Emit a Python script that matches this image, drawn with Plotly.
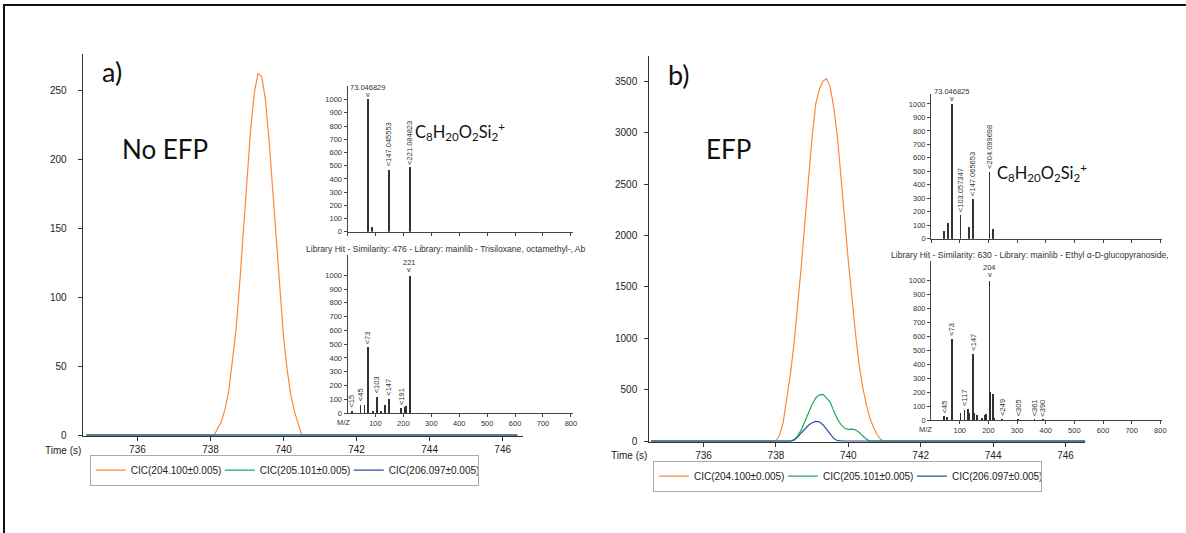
import plotly.graph_objects as go

W, H = 1186, 533

# ---------------- data ----------------
series_names = ["CIC(204.100±0.005)", "CIC(205.101±0.005)", "CIC(206.097±0.005)"]
series_colors = ["#F98A3C", "#22A85A", "#2E4DA6"]

# panel a (No EFP) chromatogram
time_a = [734.6, 738.1, 738.2, 738.3, 738.4, 738.5, 738.6, 738.7, 738.8, 738.9, 739.0,
          739.1, 739.2, 739.3, 739.4, 739.5, 739.6, 739.7, 739.8, 739.9, 740.0,
          740.1, 740.2, 740.3, 740.4, 740.5, 746.4]
cic204_a = [0, 0, 5, 10, 19, 32, 54, 77, 110, 148, 187,
            222, 248, 262, 260, 244, 215, 179, 141, 103, 71,
            47, 29, 17, 9, 0, 0]
time_flat_a = [734.6, 746.4]
cic205_a = [0, 0]
cic206_a = [0, 0]

# panel b (EFP) chromatogram
time_b = [734.55, 738.0, 738.1, 738.2, 738.3, 738.4, 738.5, 738.6, 738.7, 738.8, 738.9,
          739.0, 739.1, 739.2, 739.3, 739.4, 739.5, 739.6, 739.7, 739.8, 739.9,
          740.0, 740.1, 740.2, 740.3, 740.4, 740.5, 740.6, 740.7, 740.8, 740.9,
          741.0, 746.55]
cic204_b = [0, 0, 60, 180, 420, 650, 950, 1300, 1700, 2130, 2560,
            2960, 3280, 3420, 3500, 3525, 3440, 3240, 2950, 2580, 2160,
            1750, 1380, 1040, 740, 520, 350, 220, 130, 60, 15,
            0, 0]
cic205_b = [0, 0, 0, 0, 0, 0, 15, 50, 110, 190, 280,
            360, 420, 450, 455, 420, 380, 290, 215, 160, 125,
            115, 118, 110, 85, 50, 20, 0, 0, 0, 0,
            0, 0]
cic206_b = [0, 0, 0, 0, 0, 0, 10, 40, 80, 120, 155,
            180, 192, 188, 160, 115, 65, 25, 5, 0, 0,
            0, 0, 0, 0, 0, 0, 0, 0, 0, 0,
            0, 0]

# mass spectra (m/z, relative intensity)
a_meas_mz = [73, 86, 147, 221]
a_meas_int = [1000, 37, 470, 486]
a_lib_mz = [15, 45, 59, 73, 89, 103, 117, 131, 133, 147, 191, 205, 207, 221, 222, 223]
a_lib_int = [20, 62, 60, 480, 15, 120, 20, 15, 62, 105, 40, 50, 55, 1000, 250, 120]
b_meas_mz = [45, 59, 61, 73, 75, 103, 133, 147, 204, 217]
b_meas_int = [58, 113, 32, 1000, 47, 172, 88, 297, 493, 75]
b_lib_mz = [45, 55, 73, 75, 103, 117, 129, 133, 147, 149, 160, 177, 189, 191,
            204, 205, 217, 219, 249, 305, 361, 390]
b_lib_int = [30, 25, 585, 60, 57, 76, 85, 55, 473, 55, 40, 15, 40, 50,
             1000, 201, 189, 20, 8, 5, 5, 5]

# peak labels: (text, m/z, intensity, horizontal?)
a_meas_labels = [("73.046829", 73, 1000, True), ("<147.045553", 147, 470, False),
                 ("<221.084823", 221, 486, False)]
a_lib_labels = [("221", 221, 1000, True), ("<15", 15, 20, False), ("<45", 45, 62, False),
                ("<73", 73, 480, False), ("<103", 103, 120, False), ("<147", 147, 105, False),
                ("<191", 191, 40, False)]
b_meas_labels = [("73.046825", 73, 1000, True), ("<103.057347", 103, 172, False),
                 ("<147.065653", 147, 297, False), ("<204.099698", 204, 493, False)]
b_lib_labels = [("204", 204, 1000, True), ("<45", 45, 30, False), ("<73", 73, 585, False),
                ("<117", 117, 76, False), ("<147", 147, 473, False), ("<249", 249, 8, False),
                ("<305", 305, 5, False), ("<361", 361, 5, False), ("<390", 390, 5, False)]

time_ticks = [736, 738, 740, 742, 744, 746]
ticks_a = [0, 50, 100, 150, 200, 250]
ticks_b = [0, 500, 1000, 1500, 2000, 2500, 3000, 3500]
mz_ticks = [0, 100, 200, 300, 400, 500, 600, 700, 800]
mz_label_ticks = [100, 200, 300, 400, 500, 600, 700, 800]
int_ticks = [0, 100, 200, 300, 400, 500, 600, 700, 800, 900, 1000]

lib_text_a = "Library Hit - Similarity: 476 - Library: mainlib - Trisiloxane, octamethyl-, Ab"
lib_text_b = "Library Hit - Similarity: 630 - Library: mainlib - Ethyl α-D-glucopyranoside,"
formula = "C<sub>8</sub>H<sub>20</sub>O<sub>2</sub>Si<sub>2</sub><sup>+</sup>"

# ---------------- helpers ----------------
def px(x):
    return x / W

def py(y):
    return 1 - y / H

FONT = "Liberation Sans, Arial, sans-serif"
BIG = "Lato, Carlito, Calibri, sans-serif"

fig = go.Figure()

# chromatogram traces
for name, col, ys in zip(series_names, series_colors, [cic204_a, cic205_a, cic206_a]):
    xs = time_a if ys is cic204_a else time_flat_a
    fig.add_trace(go.Scatter(x=xs, y=ys, mode="lines", name=name,
                             line=dict(color=col, width=1.2), xaxis="x", yaxis="y",
                             legend="legend"))
for name, col, ys in zip(series_names, series_colors, [cic204_b, cic205_b, cic206_b]):
    fig.add_trace(go.Scatter(x=time_b, y=ys, mode="lines", name=name,
                             line=dict(color=col, width=1.2), xaxis="x4", yaxis="y4",
                             legend="legend2"))

# spectra
for mz, it, ax in [(a_meas_mz, a_meas_int, "2"), (a_lib_mz, a_lib_int, "3"),
                   (b_meas_mz, b_meas_int, "5"), (b_lib_mz, b_lib_int, "6")]:
    fig.add_trace(go.Bar(x=mz, y=it, width=3.0, xaxis="x" + ax, yaxis="y" + ax,
                         marker=dict(color="#333333", line=dict(width=0)),
                         showlegend=False))

def main_axes(xdom, ydom, yrange, yticks, ystand):
    xa = dict(domain=xdom, range=[734.5, 746.55], tickvals=time_ticks,
              showgrid=False, zeroline=False, showline=True, linecolor="#333",
              linewidth=1, ticks="outside", ticklen=4, tickcolor="#333",
              tickfont=dict(family=FONT, size=10, color="#222"))
    ya = dict(domain=ydom, range=yrange, tickvals=yticks, showgrid=False,
              zeroline=False, showline=True, linecolor="#333", linewidth=1,
              ticks="outside", ticklen=4, tickcolor="#333", ticklabelstandoff=ystand,
              tickfont=dict(family=FONT, size=10, color="#222"))
    return xa, ya

def inset_axes(xdom, ydom, yrange, show_x_labels):
    xa = dict(domain=xdom, range=[0, 806],
              tickvals=mz_label_ticks if show_x_labels else mz_ticks,
              showticklabels=show_x_labels, showgrid=False, zeroline=False,
              showline=True, linecolor="#444", linewidth=1, ticks="outside",
              ticklen=3, tickcolor="#444",
              tickfont=dict(family=FONT, size=7.5, color="#333"))
    ya = dict(domain=ydom, range=yrange, tickvals=int_ticks, showgrid=False,
              zeroline=False, showline=True, linecolor="#444", linewidth=1,
              ticks="outside", ticklen=3, tickcolor="#444",
              tickfont=dict(family=FONT, size=7.5, color="#333"))
    return xa, ya

x1, y1 = main_axes([px(83), px(525)], [py(440), py(55)], [-0.5, 275.8], ticks_a, 9)
x4, y4 = main_axes([px(652), px(1090)], [py(446), py(57)], [-6, 3740], ticks_b, 5)
x2, y2 = inset_axes([px(349), px(575)], [py(234), py(87)], [0, 1102], False)
x3, y3 = inset_axes([px(349), px(575)], [py(417), py(257)], [0, 1150], True)
x5, y5 = inset_axes([px(935), px(1167)], [py(241), py(95)], [0, 1073], False)
x6, y6 = inset_axes([px(935), px(1167)], [py(424), py(263)], [0, 1142], True)

for k, a in zip(["2", "3", "5", "6"], [y2, y3, y5, y6]):
    a["anchor"] = "x" + k
for k, a in zip(["2", "3", "5", "6"], [x2, x3, x5, x6]):
    a["anchor"] = "y" + k
x1["anchor"], y1["anchor"] = "y", "x"
x4["anchor"], y4["anchor"] = "y4", "x4"

annotations = []

def note(text, x, y, size, family=FONT, xanchor="center", yanchor="middle",
         xref="paper", yref="paper", angle=0, color="#222", yshift=0):
    annotations.append(dict(text=text, x=x, y=y, xref=xref, yref=yref, showarrow=False,
                            xanchor=xanchor, yanchor=yanchor, textangle=angle,
                            yshift=yshift, font=dict(family=family, size=size, color=color)))

# panel labels
note("a)", px(112), py(72), 27, BIG, color="#111")
note("b)", px(682), py(75), 27, BIG, color="#111")
note("No EFP", px(166), py(150), 26, BIG, color="#111")
note("EFP", px(732), py(150), 26, BIG, color="#111")
note(formula, px(415), py(133), 16.5, BIG, xanchor="left", color="#111")
note(formula, px(999), py(174), 16.5, BIG, xanchor="left", color="#111")
note("Time (s)", px(83), py(455), 10, xanchor="right")
note("Time (s)", px(652), py(460), 10, xanchor="right")
note("M/Z", px(345), py(427), 7.5, color="#333")
note("M/Z", px(929), py(434), 7.5, color="#333")
note(lib_text_a, px(305), py(251), 8.6, xanchor="left", color="#333")
note(lib_text_b, px(893), py(257), 8.6, xanchor="left", color="#333")

for labels, ax in [(a_meas_labels, "2"), (a_lib_labels, "3"),
                   (b_meas_labels, "5"), (b_lib_labels, "6")]:
    for text, mz, it, horiz in labels:
        if horiz:
            note("v", mz, it, 7.5, xanchor="center", yanchor="bottom",
                 xref="x" + ax, yref="y" + ax, color="#333", yshift=-1)
            note(text, mz, it, 7.5, xanchor="center", yanchor="bottom",
                 xref="x" + ax, yref="y" + ax, color="#333", yshift=6)
        else:
            note(text, mz, it, 7.5, xanchor="center", yanchor="bottom",
                 xref="x" + ax, yref="y" + ax, angle=-90, color="#333", yshift=1)

legend_common = dict(orientation="h", xanchor="center", yanchor="top",
                     bgcolor="white", bordercolor="#aaa", borderwidth=1,
                     font=dict(family=FONT, size=10, color="#222"),
                     itemwidth=30, tracegroupgap=0, entrywidth=84,
                     entrywidthmode="pixels")

fig.update_layout(
    width=W, height=H, margin=dict(l=0, r=0, t=0, b=0),
    paper_bgcolor="white", plot_bgcolor="rgba(0,0,0,0)",
    xaxis=x1, yaxis=y1, xaxis2=x2, yaxis2=y2, xaxis3=x3, yaxis3=y3,
    xaxis4=x4, yaxis4=y4, xaxis5=x5, yaxis5=y5, xaxis6=x6, yaxis6=y6,
    annotations=annotations,
    legend=dict(x=px(285.5), y=py(459), **legend_common),
    legend2=dict(x=px(851), y=py(465), **legend_common),
    shapes=[dict(type="rect", xref="paper", yref="paper", x0=px(4), y0=-0.2,
                 x1=1.2, y1=py(5), line=dict(color="#111", width=2))],
    bargap=0, showlegend=True,
)

fig.write_html("out.html", config={"displayModeBar": False},
               post_script="document.body.style.margin='0';")
